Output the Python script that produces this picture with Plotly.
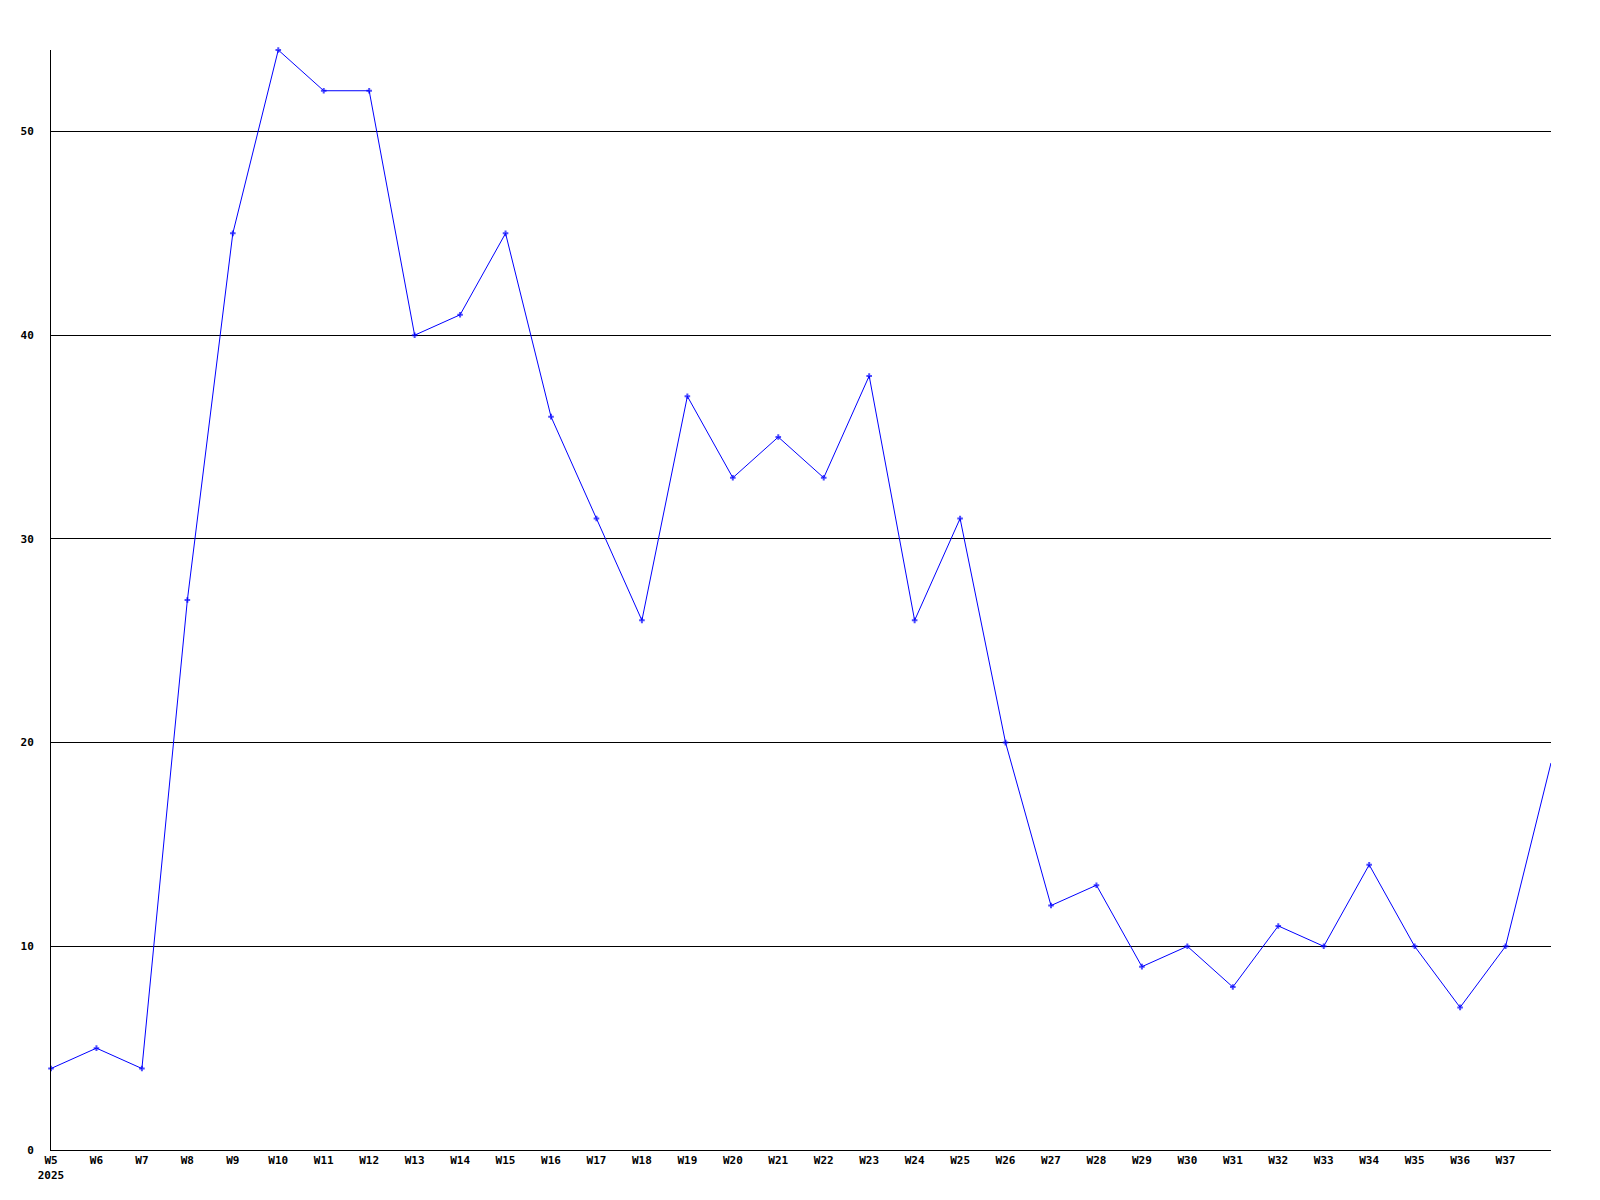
import plotly.graph_objects as go

weeks = [f"W{i}" for i in range(5, 39)]
values = [4, 5, 4, 27, 45, 54, 52, 52, 40, 41, 45, 36, 31, 26, 37, 33, 35, 33, 38,
          26, 31, 20, 12, 13, 9, 10, 8, 11, 10, 14, 10, 7, 10, 19]
tick_weeks = weeks[:-1]
tick_text = ["W5<br>2025"] + tick_weeks[1:]
y_ticks = [0, 10, 20, 30, 40, 50]

marker_sizes = [4] * (len(weeks) - 1) + [0]

fig = go.Figure()
fig.add_trace(go.Scatter(
    x=weeks, y=values, mode="lines+markers",
    line=dict(color="#0000ff", width=1),
    marker=dict(color="#0000ff", size=marker_sizes, symbol="cross-thin",
                line=dict(color="#0000ff", width=2)),
    showlegend=False, cliponaxis=False,
))

font = dict(family="DejaVu Sans Mono", size=11, color="black", weight="bold")
fig.update_layout(
    width=1584, height=1184,
    margin=dict(l=43, r=41, t=42, b=42),
    paper_bgcolor="white", plot_bgcolor="white",
    xaxis=dict(type="category", range=[0, len(weeks) - 1], automargin=False,
               tickmode="array", tickvals=tick_weeks, ticktext=tick_text,
               showgrid=False, showline=True, linecolor="black", linewidth=1,
               ticks="", tickfont=font, zeroline=False),
    yaxis=dict(range=[0, 54], tickvals=y_ticks, showgrid=True, gridcolor="black",
               gridwidth=1, showline=True, linecolor="black", linewidth=1,
               automargin=False,
               ticks="", tickfont=font, zeroline=False, ticklabelstandoff=14),
)
fig.write_html("out.html")
